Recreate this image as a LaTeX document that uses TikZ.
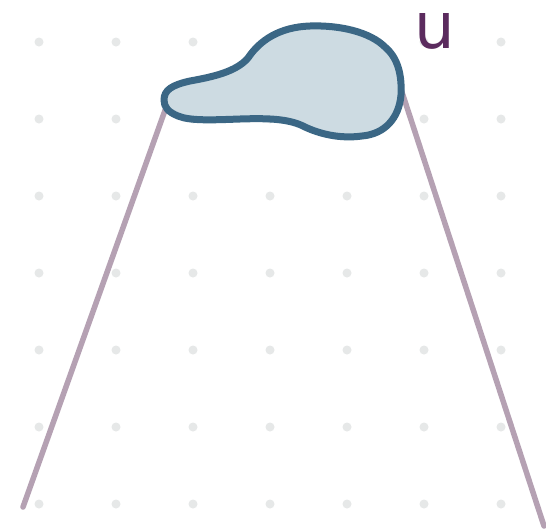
\documentclass[tikz,border=0pt]{standalone}
\usepackage{fontspec}
\newfontfamily\labelfont{DejaVu Sans}
\definecolor{dotc}{HTML}{E6E8E8}
\definecolor{linec}{HTML}{B5A1B3}
\definecolor{blobfill}{HTML}{CDDBE2}
\definecolor{blobdraw}{HTML}{3B6785}
\definecolor{labelc}{HTML}{5B2B5E}
\tikzset{
  griddot/.style={fill=dotc, draw=none},
  leg/.style={draw=linec, line width=5.5pt, line cap=round},
  blobstyle/.style={fill=blobfill, draw=blobdraw, line width=7pt, line join=round},
  lbl/.style={text=labelc, inner sep=0pt, font=\labelfont\fontsize{64}{64}\selectfont}
}
\begin{document}
\begin{tikzpicture}[x=1pt,y=-1pt]
\useasboundingbox (0,0) rectangle (546,528);
\fill[white] (0,0) rectangle (546,528);
% dot grid
\foreach \i in {0,...,6}{
  \foreach \j in {0,...,6}{
    \fill[griddot] ({39+77*\i},{42+77*\j}) circle (4.5);
  }
}
% endpoints
\coordinate (tl) at (168,102);
\coordinate (tr) at (398,80);
\coordinate (bl) at (23,507);
\coordinate (br) at (544,526);
\draw[leg] (tl) -- (bl);
\draw[leg] (tr) -- (br);
% blob
\path[blobstyle] (164,100)
  .. controls (164,90) and (172,85) .. (190,81)
  .. controls (212,77) and (236,72) .. (248,58)
  .. controls (260,40) and (280,27) .. (310,26)
  .. controls (340,25) and (370,32) .. (385,47)
  .. controls (398,58) and (402,75) .. (401,95)
  .. controls (399,118) and (385,134) .. (362,136)
  .. controls (340,139) and (320,134) .. (305,127)
  .. controls (290,119) and (270,118) .. (240,119)
  .. controls (212,120) and (190,121) .. (178,116)
  .. controls (168,112) and (164,107) .. (164,100) -- cycle;
% label
\node[lbl, anchor=base] (u) at (435,48) {u};
\end{tikzpicture}
\end{document}
